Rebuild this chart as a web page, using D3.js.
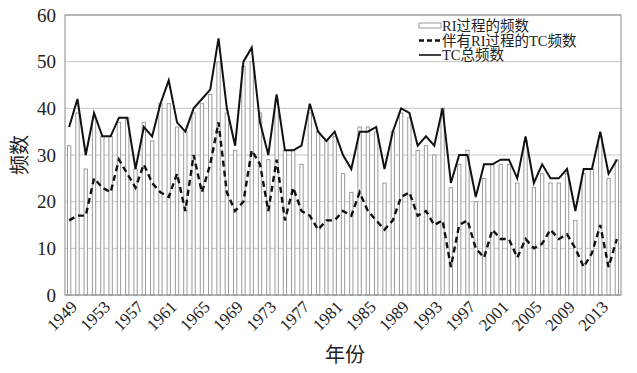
<!DOCTYPE html>
<html>
<head>
<meta charset="utf-8">
<script src="https://cdn.jsdelivr.net/npm/d3@7/dist/d3.min.js"></script>
<style>
    body { margin: 0; background: #fff; }
    .tick-text { font-family: "Liberation Serif", "Times New Roman", serif; }
    .cn { font-family: "Liberation Serif", "Noto Sans CJK SC", serif; }
</style>
</head>
<body>
<div id="chart"></div>
<script>
// years 1949-2015
const years = d3.range(1949, 2016);
const tickYears = [1949, 1953, 1957, 1961, 1965, 1969, 1973, 1977, 1981, 1985, 1989, 1993, 1997, 2001, 2005, 2009, 2013];

// RI过程的频数 (bars)
const riCount = [32, 39, 27, 38, 34, 34, 37, 38, 27, 37,
                 33, 41, 41, 36, 35, 39, 41, 43, 50, 39,
                 31, 49, 50, 39, 29, 42, 31, 31, 28, 39,
                 35, 33, 34, 26, 22, 36, 36, 35, 24, 35,
                 39, 38, 31, 32, 30, 40, 23, 28, 31, 20,
                 25, 28, 28, 28, 24, 33, 23, 26, 24, 24,
                 26, 16, 26, 27, 34, 25, 29];

// 伴有RI过程的TC频数 (dashed)
const tcWithRI = [16, 17, 17, 25, 23, 22, 29, 26, 23, 28,
                  24, 22, 21, 26, 18, 30, 22, 28, 37, 22,
                  18, 20, 31, 28, 18, 29, 16, 23, 18, 17,
                  14, 16, 16, 18, 17, 22, 18, 16, 14, 16,
                  21, 22, 17, 18, 15, 16, 6, 15, 16, 10,
                  8, 14, 12, 12, 8, 12, 10, 11, 14, 12,
                  13, 10, 6, 9, 15, 6, 12];

// TC总频数 (solid)
const tcTotal = [36, 42, 30, 39, 34, 34, 38, 38, 27, 36,
                 34, 41, 46, 37, 35, 40, 42, 44, 55, 40,
                 32, 50, 53, 37, 30, 43, 31, 31, 32, 41,
                 35, 33, 35, 30, 27, 35, 35, 36, 27, 35,
                 40, 39, 32, 34, 32, 40, 24, 30, 30, 21,
                 28, 28, 29, 29, 25, 34, 24, 28, 25, 25,
                 27, 18, 27, 27, 35, 26, 29];

const yTicks = [0, 10, 20, 30, 40, 50, 60];

const W = 637, H = 373;
const margin = { top: 15, right: 16, bottom: 78, left: 65 };
const width = W - margin.left - margin.right;
const height = H - margin.top - margin.bottom;

const svg = d3.select('#chart')
    .append('svg')
    .attr('width', W)
    .attr('height', H);

const g = svg.append('g')
    .attr('transform', 'translate(' + margin.left + ',' + margin.top + ')');

const x = d3.scaleBand()
    .domain(years)
    .range([0, width])
    .paddingInner(0.6)
    .paddingOuter(0.3);

const y = d3.scaleLinear()
    .domain([0, 60])
    .range([height, 0]);

const cx = function(i) { return x(years[i]) + x.bandwidth() / 2; };

// grid
g.append('g')
    .selectAll('line')
    .data(yTicks)
    .join('line')
    .attr('x1', 0)
    .attr('x2', width)
    .attr('y1', d => y(d))
    .attr('y2', d => y(d))
    .attr('stroke', '#c4c4c4')
    .attr('stroke-width', 1);

// bars
g.append('g')
    .selectAll('rect')
    .data(riCount)
    .join('rect')
    .attr('x', (d, i) => x(years[i]))
    .attr('y', d => y(d))
    .attr('width', x.bandwidth())
    .attr('height', d => height - y(d))
    .attr('fill', '#fff')
    .attr('stroke', '#9a9a9a')
    .attr('stroke-width', 1);

// frame
g.append('rect')
    .attr('x', 0)
    .attr('y', 0)
    .attr('width', width)
    .attr('height', height)
    .attr('fill', 'none')
    .attr('stroke', '#8a8a8a')
    .attr('stroke-width', 1);

const line = d3.line()
    .x((d, i) => cx(i))
    .y(d => y(d));

g.append('path')
    .datum(tcWithRI)
    .attr('fill', 'none')
    .attr('stroke', '#111')
    .attr('stroke-width', 2.4)
    .attr('stroke-dasharray', '6,4')
    .attr('d', line);

g.append('path')
    .datum(tcTotal)
    .attr('fill', 'none')
    .attr('stroke', '#111')
    .attr('stroke-width', 2)
    .attr('stroke-linejoin', 'miter')
    .attr('d', line);

// y axis
const yAxis = g.append('g')
    .call(d3.axisLeft(y).tickValues(yTicks).tickSize(0).tickPadding(9));
yAxis.select('.domain').remove();
yAxis.selectAll('text')
    .attr('class', 'tick-text')
    .style('font-size', '19px')
    .attr('fill', '#222');

// x axis
const xAxis = g.append('g')
    .attr('transform', 'translate(0,' + height + ')')
    .call(d3.axisBottom(x).tickValues(tickYears).tickSize(0).tickPadding(0));
xAxis.select('.domain').remove();
xAxis.selectAll('text')
    .attr('class', 'tick-text')
    .style('font-size', '17px')
    .attr('fill', '#222')
    .attr('text-anchor', 'end')
    .attr('dy', 0)
    .attr('y', 0)
    .attr('transform', 'translate(9,13) rotate(-45)');

// axis titles
svg.append('text')
    .attr('class', 'cn')
    .attr('transform', 'translate(27,' + (margin.top + height / 2) + ') rotate(-90)')
    .attr('text-anchor', 'middle')
    .style('font-size', '20px')
    .attr('fill', '#222')
    .text('频数');

svg.append('text')
    .attr('class', 'cn')
    .attr('x', 345)
    .attr('y', 362)
    .attr('text-anchor', 'middle')
    .style('font-size', '20px')
    .attr('fill', '#222')
    .text('年份');

// legend
const legend = svg.append('g')
    .attr('transform', 'translate(419,26)');
const legendItems = ['RI过程的频数', '伴有RI过程的TC频数', 'TC总频数'];

legend.append('rect')
    .attr('x', 0).attr('y', -3)
    .attr('width', 22).attr('height', 5)
    .attr('fill', '#fff')
    .attr('stroke', '#9a9a9a');
legend.append('line')
    .attr('x1', 0).attr('x2', 22)
    .attr('y1', 14.5).attr('y2', 14.5)
    .attr('stroke', '#111').attr('stroke-width', 2.4)
    .attr('stroke-dasharray', '5,3');
legend.append('line')
    .attr('x1', 0).attr('x2', 22)
    .attr('y1', 29).attr('y2', 29)
    .attr('stroke', '#111').attr('stroke-width', 1.6);

legend.selectAll('text.lg')
    .data(legendItems)
    .join('text')
    .attr('class', 'lg cn')
    .attr('x', 23)
    .attr('y', (d, i) => i * 14.5 + 5)
    .style('font-size', '14.5px')
    .attr('fill', '#222')
    .text(d => d);
</script>
</body>
</html>
